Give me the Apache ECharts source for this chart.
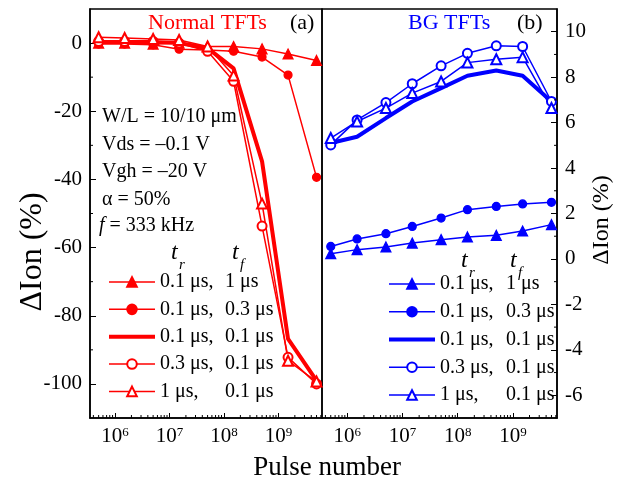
<!DOCTYPE html>
<html><head><meta charset="utf-8">
<script src="https://cdn.jsdelivr.net/npm/echarts@6/dist/echarts.min.js"></script>
<style>html,body{margin:0;padding:0;background:#fff}#c{width:621px;height:481px}</style>
</head><body><div id="c"></div>
<script>
// ---- data ----
const pulses = [5e5, 1.5e6, 5e6, 1.5e7, 5e7, 1.5e8, 5e8, 1.5e9, 5e9];
const trLabels = ['0.1 μs,', '0.1 μs,', '0.1 μs,', '0.3 μs,', '1 μs,'];
const tfLabels = ['1 μs', '0.3 μs', '0.1 μs', '0.1 μs', '0.1 μs'];
// Normal TFTs (left)
const normal_tr01_tf1  = [0, 0, -0.3, 0, -1.0, -1.0, -1.7, -3.2, -5.1];
const normal_tr01_tf03 = [-0.3, -0.3, -0.5, -1.8, -2.0, -2.4, -4.1, -9.4, -39.4];
const normal_tr01_tf01 = [0.3, 0.3, 0.3, 0, -1.5, -7.4, -34.7, -86.8, -99.0];
const normal_tr03_tf01 = [0.5, 0.5, 0.5, 0, -2.4, -11.2, -53.7, -92.2, -100.0];
const normal_tr1_tf01  = [1.7, 1.5, 1.2, 0.9, -1.0, -9.5, -47.1, -93.2, -99.3];
// BG TFTs (right)
const bg_tr01_tf1  = [0.23, 0.41, 0.53, 0.70, 0.85, 0.97, 1.04, 1.23, 1.51];
const bg_tr01_tf03 = [0.55, 0.88, 1.11, 1.43, 1.80, 2.17, 2.31, 2.42, 2.49];
const bg_tr01_tf01 = [5.10, 5.38, 6.20, 6.93, 7.52, 8.06, 8.29, 8.06, 6.93];
const bg_tr03_tf01 = [5.02, 6.12, 6.88, 7.71, 8.50, 9.05, 9.38, 9.35, 6.93];
const bg_tr1_tf01  = [5.32, 6.05, 6.64, 7.30, 7.81, 8.64, 8.79, 8.88, 6.64];
// axes
const xMin = 3.47e5, xMax = 6.3e9;
const leftYMin = -110, leftYMax = 10;
const rightYMin = -7, rightYMax = 11;
const leftYMinorTicks = [-90, -70, -50, -30, -10];
const rightYMinorTicks = [-5, -3, -1, 1, 3, 5, 7, 9];
const minorMultipliers = [2, 3, 4, 5, 6, 7, 8, 9];
const decades = [1e5, 1e6, 1e7, 1e8, 1e9];

const RED = '#ff0000', BLUE = '#0000ff';
const FONT = 'Liberation Serif';

const chart = echarts.init(document.getElementById('c'), null, {renderer: 'canvas'});

const leftNames = ['N1', 'N2', 'N3', 'N4', 'N5'];
const rightNames = ['B1', 'B2', 'B3', 'B4', 'B5'];
const leftVals = [normal_tr01_tf1, normal_tr01_tf03, normal_tr01_tf01, normal_tr03_tf01, normal_tr1_tf01];
const rightVals = [bg_tr01_tf1, bg_tr01_tf03, bg_tr01_tf01, bg_tr03_tf01, bg_tr1_tf01];
const symbols = ['triangle', 'circle', 'none', 'emptyCircle', 'emptyTriangle'];
const symSizes = [10, 8, 0, 9, 10];
const widths = [1.5, 1.5, 4, 1.5, 1.5];

function mkSeries(names, vals, color, xi) {
  return names.map((n, k) => ({
    name: n, type: 'line', xAxisIndex: xi, yAxisIndex: xi,
    data: pulses.map((p, i) => [p, vals[k][i]]),
    symbol: symbols[k], symbolSize: symSizes[k], showSymbol: symbols[k] !== 'none',
    lineStyle: {color: color, width: widths[k]},
    itemStyle: {color: color, borderColor: color, borderWidth: 1.2},
    emphasis: {disabled: true}, z: 3
  }));
}

const minorX = [];
decades.forEach(d => minorMultipliers.forEach(m => { const v = d * m; if (v > xMin && v < xMax) minorX.push(v); }));

function xMinorSeries(xi, yMin) {
  return {
    type: 'custom', xAxisIndex: xi, yAxisIndex: xi, silent: true, z: 5, clip: false,
    data: minorX.map(v => [v, yMin]),
    renderItem: (params, api) => {
      const p = api.coord([api.value(0), api.value(1)]);
      return {type: 'line', shape: {x1: p[0], y1: p[1], x2: p[0], y2: p[1] - 3},
              style: {stroke: '#000', lineWidth: 1}};
    }
  };
}
function yMinorSeries(xi, vals, xAt, dir) {
  return {
    type: 'custom', xAxisIndex: xi, yAxisIndex: xi, silent: true, z: 5, clip: false,
    data: vals.map(v => [xAt, v]),
    renderItem: (params, api) => {
      const p = api.coord([api.value(0), api.value(1)]);
      return {type: 'line', shape: {x1: p[0], y1: p[1], x2: p[0] + 3 * dir, y2: p[1]},
              style: {stroke: '#000', lineWidth: 1}};
    }
  };
}

function powFmt(v) {
  const n = Math.log10(v), r = Math.round(n);
  if (Math.abs(n - r) > 1e-6) return '';
  return '{b|10}{s|' + r + '}';
}
const xRich = {
  b: {fontFamily: FONT, fontSize: 21, color: '#000'},
  s: {fontFamily: FONT, fontSize: 13, color: '#000', verticalAlign: 'top'}
};
function xAxisCfg(gi) {
  return {
    gridIndex: gi, type: 'log', logBase: 10, min: xMin, max: xMax,
    axisLine: {show: true, onZero: false, lineStyle: {color: '#000', width: 1.5}},
    axisTick: {show: true, inside: true, length: 5, lineStyle: {color: '#000', width: 1}},
    axisLabel: {formatter: powFmt, rich: xRich, margin: 8, showMinLabel: false, showMaxLabel: false},
    splitLine: {show: false}, minorTick: {show: false}
  };
}
function legendFmt(names) {
  return function (name) {
    const k = names.indexOf(name);
    return '{a|' + trLabels[k] + '}{b|' + tfLabels[k] + '}';
  };
}
function legendCfg(names, color, left, top, gap, colW) {
  return {
    data: names.map((n, k) => symbols[k] === 'none'
      ? {name: n, itemStyle: {opacity: 0, color: 'transparent', borderColor: 'transparent'},
         lineStyle: {width: widths[k], color: color}}
      : {name: n, lineStyle: {width: widths[k], color: color}}),
    orient: 'vertical', left: left, top: top, padding: 0,
    itemWidth: 46, itemHeight: 12, itemGap: gap, selectedMode: false,
    formatter: legendFmt(names),
    textStyle: {
      fontFamily: FONT, fontSize: 20, color: '#000', lineHeight: 20,
      rich: {
        a: {fontFamily: FONT, fontSize: 20, color: '#000', width: colW, lineHeight: 20},
        b: {fontFamily: FONT, fontSize: 20, color: '#000', lineHeight: 20}
      }
    }
  };
}

function txt(x, y, text, size, color, opts) {
  opts = opts || {};
  return {
    type: 'text', x: x, y: y, rotation: opts.rotation || 0, silent: true, z: 10,
    style: {
      text: text, x: 0, y: 0, fill: color || '#000',
      font: (opts.italic ? 'italic ' : '') + size + 'px "' + FONT + '"',
      align: opts.align || 'left', verticalAlign: 'middle',
      textAlign: opts.align || 'left', textVerticalAlign: 'middle',
      rich: opts.rich
    }
  };
}

const option = {
  animation: false,
  backgroundColor: '#fff',
  grid: [
    {left: 90, top: 9, width: 232, height: 409, show: true, borderColor: '#000', borderWidth: 1.5, backgroundColor: 'transparent'},
    {left: 322, top: 9, width: 235, height: 409, show: true, borderColor: '#000', borderWidth: 1.5, backgroundColor: 'transparent'}
  ],
  xAxis: [xAxisCfg(0), xAxisCfg(1)],
  yAxis: [
    {gridIndex: 0, type: 'value', min: leftYMin, max: leftYMax, splitNumber: 6, position: 'left',
     axisLine: {show: true, onZero: false, lineStyle: {color: '#000', width: 1.5}},
     axisTick: {show: true, inside: true, length: 6, lineStyle: {color: '#000', width: 1}},
     axisLabel: {fontFamily: FONT, fontSize: 21, color: '#000', margin: 8, showMinLabel: false, showMaxLabel: false},
     splitLine: {show: false}},
    {gridIndex: 1, type: 'value', min: rightYMin, max: rightYMax, splitNumber: 9, position: 'right',
     axisLine: {show: true, onZero: false, lineStyle: {color: '#000', width: 1.5}},
     axisTick: {show: true, inside: true, length: 6, lineStyle: {color: '#000', width: 1}},
     axisLabel: {fontFamily: FONT, fontSize: 21, color: '#000', margin: 8, showMinLabel: false, showMaxLabel: false},
     splitLine: {show: false}}
  ],
  legend: [
    legendCfg(leftNames, RED, 107, 272, 7.35, 65),
    legendCfg(rightNames, BLUE, 387, 274, 7.75, 66)
  ],
  series: [].concat(
    mkSeries(leftNames, leftVals, RED, 0),
    mkSeries(rightNames, rightVals, BLUE, 1),
    [xMinorSeries(0, leftYMin), xMinorSeries(1, rightYMin),
     yMinorSeries(0, leftYMinorTicks, xMin, 1), yMinorSeries(1, rightYMinorTicks, xMax, -1)]
  ),
  graphic: [
    txt(148, 23, 'Normal TFTs', 22, RED),
    txt(290, 23, '(a)', 22, '#000'),
    txt(408, 23, 'BG TFTs', 22, BLUE),
    txt(517, 23, '(b)', 22, '#000'),
    txt(102, 117, 'W/L = 10/10 μm', 20, '#000'),
    txt(102, 145, 'Vds = –0.1 V', 20, '#000'),
    txt(102, 172, 'Vgh = –20 V', 20, '#000'),
    txt(102, 200, 'α = 50%', 20, '#000'),
    txt(99, 226, '{i|f} = 333 kHz', 20, '#000', {rich: {i: {fontFamily: FONT, fontSize: 20, fontStyle: 'italic', fill: '#000'}}}),
    txt(171, 253, 't', 24, '#000', {italic: true}),
    txt(179, 265, 'r', 15, '#000', {italic: true}),
    txt(232, 253, 't', 24, '#000', {italic: true}),
    txt(240, 265, 'f', 15, '#000', {italic: true}),
    txt(461, 261, 't', 24, '#000', {italic: true}),
    txt(469, 273, 'r', 15, '#000', {italic: true}),
    txt(510, 261, 't', 24, '#000', {italic: true}),
    txt(518, 273, 'f', 15, '#000', {italic: true}),
    txt(33, 252, 'ΔIon (%)', 32, '#000', {align: 'center', rotation: Math.PI / 2}),
    txt(602, 220, 'ΔIon (%)', 24, '#000', {align: 'center', rotation: Math.PI / 2}),
    txt(327, 468, 'Pulse number', 27, '#000', {align: 'center'})
  ]
};
chart.setOption(option);
</script></body></html>
